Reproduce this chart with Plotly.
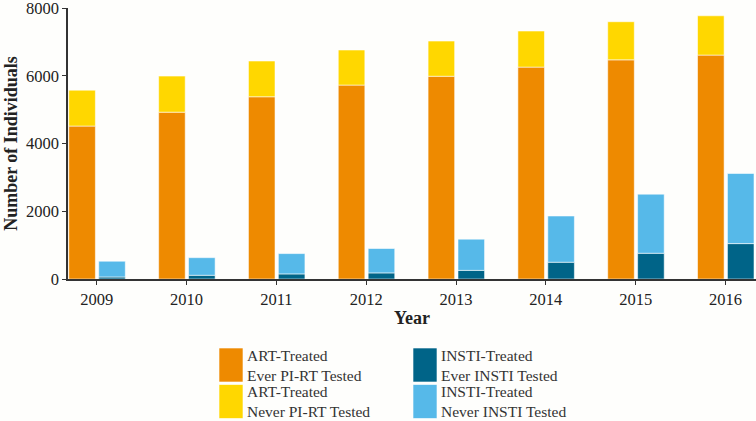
import plotly.graph_objects as go

years = [2009, 2010, 2011, 2012, 2013, 2014, 2015, 2016]
art_ever_tested = [4515, 4925, 5380, 5725, 5985, 6255, 6470, 6610]
art_total = [5575, 5990, 6435, 6760, 7025, 7320, 7595, 7770]
insti_ever_tested = [60, 110, 150, 180, 255, 495, 760, 1045]
insti_total = [525, 630, 750, 900, 1175, 1860, 2505, 3115]

art_never_tested = [t - e for t, e in zip(art_total, art_ever_tested)]
insti_never_tested = [t - e for t, e in zip(insti_total, insti_ever_tested)]

labels = ["ART-Treated<br>Ever PI-RT Tested", "ART-Treated<br>Never PI-RT Tested",
          "INSTI-Treated<br>Ever INSTI Tested", "INSTI-Treated<br>Never INSTI Tested"]
colors = ["#EE8A00", "#FFD700", "#006488", "#56B9E9"]

FONT = "Liberation Serif"
W = 0.296
line = dict(color="rgba(255,255,255,0.55)", width=1)

fig = go.Figure()
fig.add_bar(x=years, y=art_ever_tested, width=W, offset=-0.311,
            marker=dict(color=colors[0], line=line), name=labels[0])
fig.add_bar(x=years, y=art_never_tested, base=art_ever_tested, width=W, offset=-0.311,
            marker=dict(color=colors[1], line=line), name=labels[1])
fig.add_bar(x=years, y=insti_ever_tested, width=W, offset=0.022,
            marker=dict(color=colors[2], line=line), name=labels[2])
fig.add_bar(x=years, y=insti_never_tested, base=insti_ever_tested, width=W, offset=0.022,
            marker=dict(color=colors[3], line=line), name=labels[3])

# plot area in pixels: left 68, right 756, top 8, bottom 279
PL, PR, PT, PB = 68, 756, 8, 279
def px(x):
    return (x - PL) / (PR - PL)
def py(y):
    return (PB - y) / (PB - PT)

# custom legend (large swatches, two columns)
legend_pos = [(0, 0), (0, 1), (1, 0), (1, 1)]
for (col, row), lab, c in zip(legend_pos, labels, colors):
    x0 = 219 + col * 194
    y0 = 348 + row * 36.5
    fig.add_shape(type="rect", xref="paper", yref="paper",
                  x0=px(x0), x1=px(x0 + 24), y0=py(y0 + 34), y1=py(y0),
                  fillcolor=c, line=dict(color="rgba(255,255,255,0.6)", width=1))
    fig.add_annotation(xref="paper", yref="paper",
                       x=px(x0 + 26), y=py(y0 + 17),
                       text=lab, showarrow=False, xanchor="left", yanchor="middle",
                       align="left", font=dict(family=FONT, size=15.5, color="#333"))

fig.update_layout(
    width=756, height=421,
    margin=dict(l=PL, r=756 - PR, t=PT, b=421 - PB, autoexpand=False),
    barmode="overlay",
    showlegend=False,
    paper_bgcolor="#FEFEFC", plot_bgcolor="#FEFEFC",
    font=dict(family=FONT, size=16.5, color="#222"),
    xaxis=dict(range=[2008.68, 2016.34], tickvals=years, ticktext=[str(y) for y in years],
               automargin=False, ticklabeloverflow="allow",
               showgrid=False, zeroline=False, showline=True, linecolor="#333", linewidth=2,
               ticks="outside", ticklen=4, tickcolor="#333",
               title=dict(text="<b>Year</b>", font=dict(size=18), standoff=4)),
    yaxis=dict(range=[0, 8000], tickvals=[0, 2000, 4000, 6000, 8000],
               automargin=False, ticklabeloverflow="allow",
               showgrid=False, zeroline=False, showline=True, linecolor="#333", linewidth=1.5,
               ticks="outside", ticklen=4, tickcolor="#333",
               title=dict(text="<b>Number of Individuals</b>", font=dict(size=18), standoff=4)),
)

fig.write_html("out.html", config={"displayModeBar": False},
               post_script="document.body.style.margin='0';document.body.style.overflow='hidden';")
